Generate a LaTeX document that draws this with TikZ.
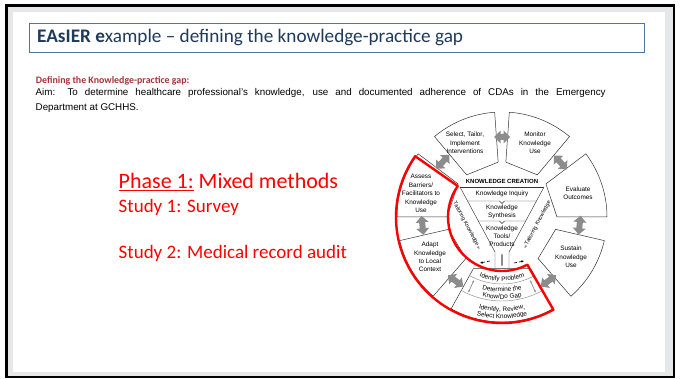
\documentclass[tikz,border=0pt]{standalone}
\usepackage{fontspec}
\setmainfont{Carlito}
\newfontfamily\arialfont{Liberation Sans}
\usetikzlibrary{shapes.arrows,decorations.text,arrows.meta}

\definecolor{slidegray}{HTML}{E6E7E9}
\definecolor{titleblue}{HTML}{1F3A5A}
\definecolor{frameblue}{HTML}{52759B}
\definecolor{headred}{HTML}{A5333A}
\definecolor{ktagray}{HTML}{8C8C8C}
\definecolor{linegray}{HTML}{333333}

\tikzset{
  kbox/.style = {draw = linegray, fill = white, line width = 0.5pt},
  kline/.style = {draw = linegray, line width = 0.45pt},
  ktext/.style = {font = \arialfont\fontsize{6.4}{8.4}\selectfont, align = center, inner sep = 0pt},
  karrow/.style = {double arrow, fill = ktagray, minimum height = 19pt, minimum width = 12pt,
                   double arrow head extend = 3.5pt, inner sep = 2.8pt},
  thinarrow/.style = {ktagray, line width = 0.7pt, {Latex[length=2.5pt]}-{Latex[length=2.5pt]}},
  redtext/.style = {text = red, anchor = base west, inner sep = 0pt},
  redline/.style = {draw = red, line width = 2.4pt, line join = round}
}

\begin{document}
\begin{tikzpicture}[x = 1pt, y = -1pt]
        \useasboundingbox (0,0) rectangle (682,379);

        % slide frame
        \fill[slidegray] (6,5) rectangle (675,378);
        \fill[white] (13,12) rectangle (665,372);
        \draw[black, line width = 2.4pt] (6.5,5.5) rectangle (674,377);

        % title
        \node[draw = frameblue, line width = 0.9pt, fill = white, anchor = north west,
              minimum width = 615pt, minimum height = 29pt] (titlebox) at (29,23) {};
        \node[anchor = base west, inner sep = 0pt, text = titleblue,
              font = \fontsize{19.2}{21}\selectfont] (title) at (37,43)
              {\textbf{EAsIER e}xample – defining the knowledge-practice gap};

        % aim
        \node[anchor = base west, inner sep = 0pt, text = headred,
              font = \bfseries\fontsize{9.9}{12}\selectfont] (defhead) at (35.7,83.3)
              {Defining the Knowledge-practice gap:};
        \node[anchor = base west, inner sep = 0pt, font = \arialfont\fontsize{9.8}{11}\selectfont]
              (aim) at (35.5,96)
              {\makebox[570pt][s]{Aim: To determine healthcare professional’s knowledge, use and documented adherence of CDAs in the Emergency}};
        \node[anchor = base west, inner sep = 0pt, font = \arialfont\fontsize{9.8}{11}\selectfont]
              (dept) at (35.5,110.7) {Department at GCHHS.};

        % phase 1
        \node[redtext, font = \fontsize{22}{26}\selectfont] (phase) at (118.5,188.5)
              {\underline{Phase 1:} Mixed methods};
        \node[redtext, font = \fontsize{19}{22}\selectfont] (study1) at (118.5,212.7)
              {Study 1: Survey};
        \node[redtext, font = \fontsize{19}{22}\selectfont] (study2) at (118.5,258.3)
              {Study 2: Medical record audit};

        % knowledge-to-action cycle
        \begin{scope}[shift = {(502,217)}, y = 1pt]
        \draw[kbox] (50:55) -- (50:105) arc[start angle = 50, end angle = 86, radius = 105] -- (86:55) -- cycle;
        \draw[kbox] (94:55) -- (94:105) arc[start angle = 94, end angle = 130, radius = 105] -- (130:55) -- cycle;
        \draw[kbox] (143:55) -- (143:105) arc[start angle = 143, end angle = 180, radius = 105] -- (180:55) -- cycle;
        \draw[kbox] (193:55) -- (193:105) arc[start angle = 193, end angle = 229, radius = 105] -- (229:55) -- cycle;
        \draw[kbox] (311:55) -- (311:105) arc[start angle = 311, end angle = 347, radius = 105] -- (347:55) -- cycle;
        \draw[kbox] (0:55) -- (0:105) arc[start angle = 0, end angle = 37, radius = 105] -- (37:55) -- cycle;
        \draw[kbox] (241:59) -- (241:105) arc[start angle = 241, end angle = 299, radius = 105] -- (299:59) -- cycle;
        \draw[kline, draw = ktagray] (241:67) arc[start angle = 241, end angle = 299, radius = 67];
        \draw[kline, draw = ktagray] (241:84) arc[start angle = 241, end angle = 299, radius = 84];

        \node[ktext] (select) at (-37,74) {Select, Tailor,\\Implement\\Interventions};
        \node[ktext] (monitor) at (33,74) {Monitor\\Knowledge\\Use};
        \node[ktext] (evaluate) at (76,24) {Evaluate\\Outcomes};
        \node[ktext] (sustain) at (69,-40) {Sustain\\Knowledge\\Use};
        \node[ktext] (adapt) at (-72,-40) {Adapt\\Knowledge\\to Local\\Context};
        \node[ktext] (assess) at (-81,23.5) {Assess\\Barriers/\\Facilitators to\\Knowledge\\Use};

        % action steps along the rim
        \path[decorate, decoration = {text along path, text align = center,
              text = {|\arialfont\fontsize{6.4}{7}\selectfont|Identify Problem}}]
              (245:64) arc[start angle = 245, end angle = 295, radius = 64];
        \path[decorate, decoration = {text along path, text align = center,
              text = {|\arialfont\fontsize{6.4}{7}\selectfont|Determine the}}]
              (245:75) arc[start angle = 245, end angle = 295, radius = 75];
        \path[decorate, decoration = {text along path, text align = center,
              text = {|\arialfont\fontsize{6.4}{7}\selectfont|Know/Do Gap}}]
              (245:82) arc[start angle = 245, end angle = 295, radius = 82];
        \path[decorate, decoration = {text along path, text align = center,
              text = {|\arialfont\fontsize{6.4}{7}\selectfont|Identify, Review,}}]
              (245:94.5) arc[start angle = 245, end angle = 295, radius = 94.5];
        \path[decorate, decoration = {text along path, text align = center,
              text = {|\arialfont\fontsize{6.4}{7}\selectfont|Select Knowledge}}]
              (245:101.5) arc[start angle = 245, end angle = 295, radius = 101.5];

        \coordinate (gapLa) at (246:69);
        \coordinate (gapLb) at (246:83);
        \coordinate (gapRa) at (294:69);
        \coordinate (gapRb) at (294:83);
        \draw[thinarrow] (gapLa) -- (gapLb);
        \draw[thinarrow] (gapRa) -- (gapRb);

        % cycle arrows
        \node[karrow, minimum height = 16pt] (selmon) at (90:80) {};
        \node[karrow, rotate = 133] (moneva) at (43:80) {};
        \node[karrow, rotate = 84] (evasus) at (354:78) {};
        \node[karrow, rotate = 36] (susid) at (306:79) {};
        \node[karrow, rotate = 144] (idada) at (234:79) {};
        \node[karrow, rotate = 96] (adaass) at (186:80) {};
        \node[karrow, rotate = 47] (asssel) at (137:81) {};

        % knowledge creation funnel
        \draw[kline] (-42,30) -- (42,30);
        \draw[kline] (-42,30) -- (-7,-35) -- (-7,-51);
        \draw[kline] (42,30) -- (7,-35) -- (7,-51);
        \draw[kline] (-34.5,16) -- (-2.5,16) -- (0,13.5) -- (2.5,16) -- (34.5,16);
        \draw[kline] (-23.7,-4) -- (-2.5,-4) -- (0,-6.5) -- (2.5,-4) -- (23.7,-4);

        \node[ktext, font = \arialfont\bfseries\fontsize{6}{7}\selectfont] (creation) at (0,35.5) {KNOWLEDGE CREATION};
        \node[ktext] (inquiry) at (0,23.5) {Knowledge Inquiry};
        \node[ktext, font = \arialfont\fontsize{6.4}{8}\selectfont] (synthesis) at (0,5) {Knowledge\\Synthesis};
        \node[ktext, font = \arialfont\fontsize{6.4}{8}\selectfont] (tools) at (0,-19) {Knowledge\\Tools/\\Products};

        \node[ktext, font = \arialfont\fontsize{5.5}{6}\selectfont, rotate = -62] (tailorL) at (-36,-7) {Tailoring Knowledge};
        \node[ktext, font = \arialfont\fontsize{5.5}{6}\selectfont, rotate = 62] (tailorR) at (36,-6) {Tailoring Knowledge};
        \draw[ktagray, -{Latex[length=3pt]}] (tailorL.east) -- ++(-62:4);
        \draw[ktagray, -{Latex[length=3pt]}] (tailorR.west) -- ++(242:4);

        \coordinate (neckA) at (0,-36);
        \coordinate (neckB) at (0,-50);
        \draw[ktagray, line width = 1.1pt, {Latex[length=2.5pt]}-{Latex[length=2.5pt]}] (neckA) -- (neckB);
        \coordinate (loopLa) at (-12,-44);
        \coordinate (loopLb) at (-22,-46);
        \coordinate (loopRa) at (12,-46);
        \coordinate (loopRb) at (22,-44);
        \draw[densely dashed, line width = 0.6pt, -{Latex[length=2.5pt, width=2.5pt]}] (loopLa) -- (loopLb);
        \draw[densely dashed, line width = 0.6pt, -{Latex[length=2.5pt, width=2.5pt]}] (loopRa) -- (loopRb);

        % phase 1 outline
        \draw[redline] (145:106) -- (145:54) arc[start angle = 145, end angle = 298, radius = 54]
              -- (299:106) arc[start angle = 299, end angle = 145, radius = 106] -- cycle;
        \end{scope}
    \end{tikzpicture}
\end{document}
